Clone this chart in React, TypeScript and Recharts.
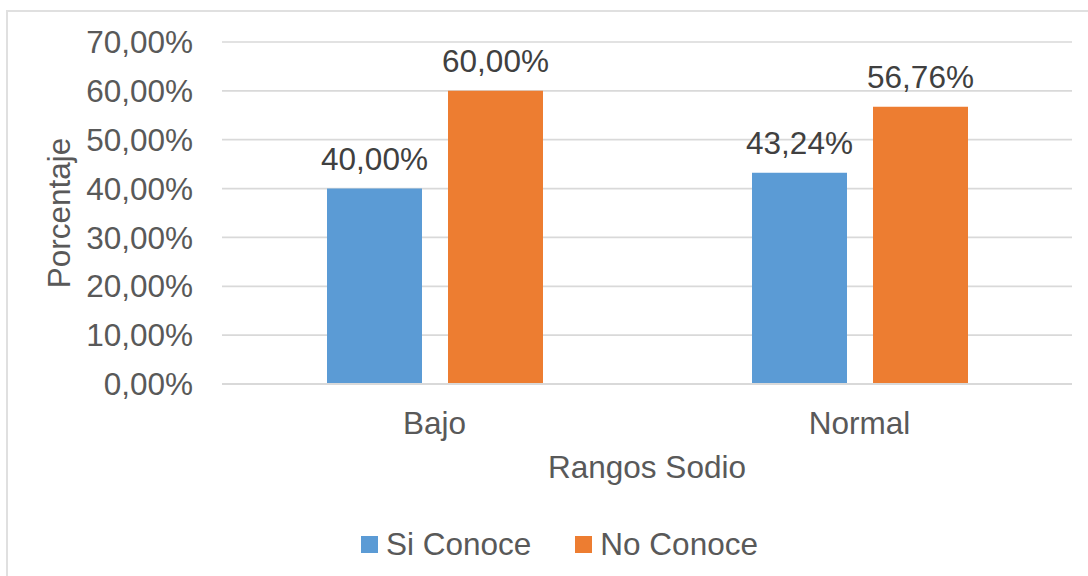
import { BarChart, Bar, XAxis, YAxis, CartesianGrid, LabelList } from "recharts";

const categories = ["Bajo", "Normal"];
const siConoce = [40.0, 43.24];
const noConoce = [60.0, 56.76];
const yTicks = [0, 10, 20, 30, 40, 50, 60, 70];
const seriesNames = ["Si Conoce", "No Conoce"];
const seriesColors = ["#5B9BD5", "#ED7D31"];

const data = categories.map((name, i) => ({
  name,
  si: siConoce[i],
  no: noConoce[i],
}));

const font = "'Liberation Sans', Arial, sans-serif";
const fs = 31.5;
const pct = (v: number) => `${v.toFixed(2).replace(".", ",")}%`;

export default function App() {
  return (
    <div
      style={{
        position: "absolute",
        left: 0,
        top: 0,
        width: 1088,
        height: 576,
        background: "#fff",
        overflow: "hidden",
        fontFamily: font,
      }}
    >
      <div
        style={{
          position: "absolute",
          left: 6,
          top: 10,
          width: 1100,
          height: 600,
          border: "2px solid #e0e0e0",
        }}
      />
      <div style={{ position: "absolute", left: 0, top: 0 }}>
        <BarChart
          width={1088}
          height={576}
          data={data}
          margin={{ top: 42, right: 16, left: 0, bottom: 0 }}
          barSize={95}
          barGap={26}
        >
          <CartesianGrid vertical={false} stroke="#d9d9d9" strokeWidth={1.7} />
          <XAxis
            dataKey="name"
            height={192}
            axisLine={{ stroke: "#d9d9d9", strokeWidth: 2 }}
            tickLine={false}
            tickSize={0}
            tickMargin={28}
            tick={{ fill: "#595959", fontSize: fs, fontFamily: font }}
            label={{
              value: "Rangos Sodio",
              position: "insideBottom",
              offset: 98,
              fill: "#595959",
              fontSize: fs,
              fontFamily: font,
            }}
          />
          <YAxis
            width={222}
            domain={[0, 70]}
            ticks={yTicks}
            interval={0}
            axisLine={false}
            tickLine={false}
            tickSize={0}
            tickMargin={29}
            tickFormatter={pct}
            tick={{ fill: "#595959", fontSize: fs, fontFamily: font }}
            label={{
              value: "Porcentaje",
              angle: -90,
              position: "insideLeft",
              offset: 59,
              fill: "#595959",
              fontSize: fs,
              fontFamily: font,
              style: { textAnchor: "middle" },
            }}
          />
          <Bar dataKey="si" name={seriesNames[0]} fill={seriesColors[0]} isAnimationActive={false}>
            <LabelList
              dataKey="si"
              position="top"
              offset={19}
              formatter={(v: number) => pct(v)}
              fill="#404040"
              fontSize={fs}
              fontFamily={font}
            />
          </Bar>
          <Bar dataKey="no" name={seriesNames[1]} fill={seriesColors[1]} isAnimationActive={false}>
            <LabelList
              dataKey="no"
              position="top"
              offset={19}
              formatter={(v: number) => pct(v)}
              fill="#404040"
              fontSize={fs}
              fontFamily={font}
            />
          </Bar>
        </BarChart>
      </div>
      <div
        style={{
          position: "absolute",
          left: 361,
          top: 524,
          height: 40,
          display: "flex",
          alignItems: "center",
          color: "#595959",
          fontSize: fs,
        }}
      >
        {seriesNames.map((n, i) => (
          <div key={n} style={{ display: "flex", alignItems: "center", marginRight: i === 0 ? 44 : 0 }}>
            <span
              style={{
                display: "inline-block",
                width: 17,
                height: 17,
                background: seriesColors[i],
                marginRight: 8,
              }}
            />
            <span>{n}</span>
          </div>
        ))}
      </div>
    </div>
  );
}
